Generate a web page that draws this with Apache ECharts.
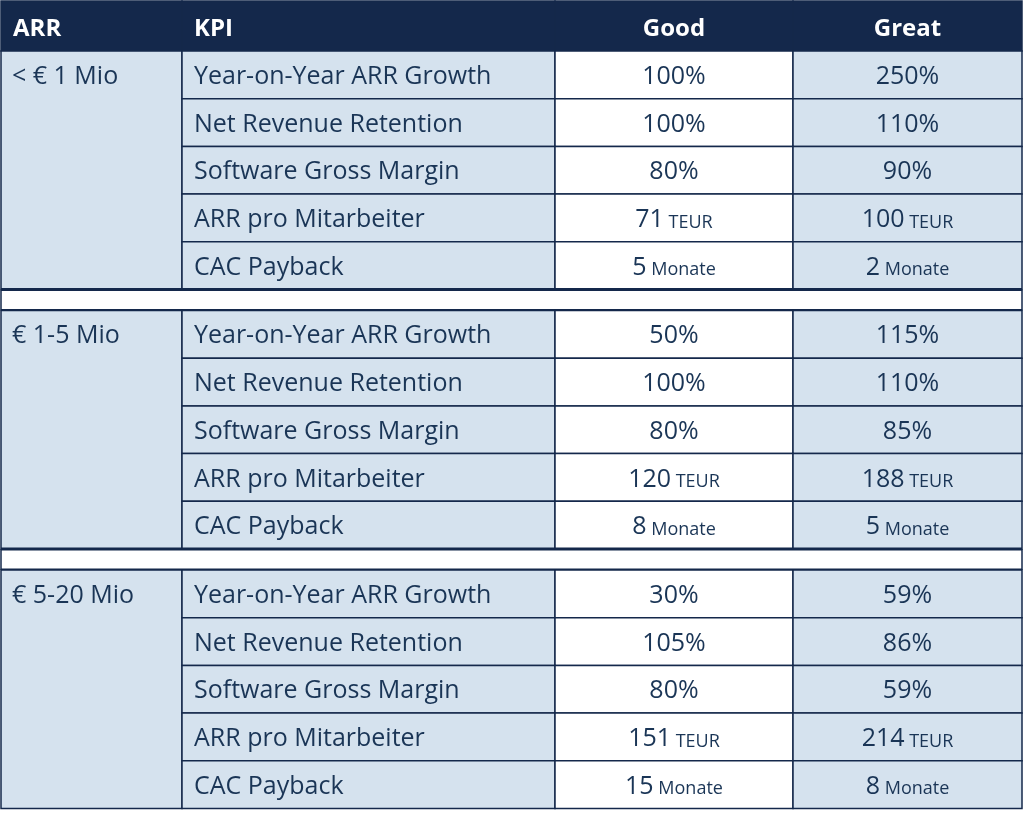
<!DOCTYPE html>
<html><head><meta charset="utf-8">
<script src="https://cdn.jsdelivr.net/npm/echarts@6/dist/echarts.min.js"></script>
<style>html,body{margin:0;padding:0;background:#fff}#c{width:1024px;height:819px}</style>
</head><body><div id="c"></div>
<script>
const headers = ['ARR', 'KPI', 'Good', 'Great'];
const groups = ['< € 1 Mio', '€ 1-5 Mio', '€ 5-20 Mio'];
const kpis = ['Year-on-Year ARR Growth', 'Net Revenue Retention', 'Software Gross Margin', 'ARR pro Mitarbeiter', 'CAC Payback'];
const units = ['%', '%', '%', 'TEUR', 'Monate'];
const goodValues = [[100, 100, 80, 71, 5], [50, 100, 80, 120, 8], [30, 105, 80, 151, 15]];
const greatValues = [[250, 110, 90, 100, 2], [115, 110, 85, 188, 5], [59, 86, 59, 214, 8]];

// layout (pixels)
const colEdges = [1, 182, 555, 793, 1022];
const headerH = 51, rowH = 47.7, gapH = 21;
const NAVY = '#14284b', LIGHT = '#d5e2ee', TXT = '#1a3556';
const FONT = '"Open Sans", "Liberation Sans", sans-serif';

const cells = [];
headers.forEach((h, c) => cells.push({ x0: colEdges[c], x1: colEdges[c + 1], y0: 1, y1: headerH, kind: 'header', text: h, col: c }));
let y = headerH;
groups.forEach((g, gi) => {
  if (gi > 0) { cells.push({ x0: colEdges[0], x1: colEdges[4], y0: y, y1: y + gapH, kind: 'gap' }); y += gapH; }
  cells.push({ x0: colEdges[0], x1: colEdges[1], y0: y, y1: y + rowH * kpis.length, kind: 'group', text: g });
  kpis.forEach((k, ki) => {
    const r0 = y + ki * rowH, r1 = r0 + rowH;
    cells.push({ x0: colEdges[1], x1: colEdges[2], y0: r0, y1: r1, kind: 'kpi', text: k });
    cells.push({ x0: colEdges[2], x1: colEdges[3], y0: r0, y1: r1, kind: 'good', val: goodValues[gi][ki], unit: units[ki] });
    cells.push({ x0: colEdges[3], x1: colEdges[4], y0: r0, y1: r1, kind: 'great', val: greatValues[gi][ki], unit: units[ki] });
  });
  y += rowH * kpis.length;
});

function fmt(v, u) {
  if (u === '%') return '{n|' + v + '%}';
  return '{n|' + v + '}{u| ' + u + '}';
}

const chart = echarts.init(document.getElementById('c'));
chart.setOption({
  animation: false,
  grid: { left: 0, right: 0, top: 0, bottom: 0 },
  xAxis: { type: 'value', min: 0, max: 1024, show: false },
  yAxis: { type: 'value', min: 0, max: 819, inverse: true, show: false },
  series: [{
    type: 'custom',
    data: cells.map((c, i) => [c.x0, c.y0, c.x1, c.y1, i]),
    renderItem: function (params, api) {
      const c = cells[api.value(4)];
      const p0 = api.coord([c.x0, c.y0]), p1 = api.coord([c.x1, c.y1]);
      const w = p1[0] - p0[0], h = p1[1] - p0[1];
      const children = [];
      if (c.kind === 'gap') {
        children.push({ type: 'rect', shape: { x: p0[0], y: p0[1], width: w, height: h }, style: { fill: '#fff', stroke: null } });
        children.push({ type: 'line', shape: { x1: p0[0], y1: p0[1], x2: p1[0], y2: p0[1] }, style: { stroke: NAVY, lineWidth: 3 } });
        children.push({ type: 'line', shape: { x1: p0[0], y1: p1[1], x2: p1[0], y2: p1[1] }, style: { stroke: NAVY, lineWidth: 3 } });
        children.push({ type: 'line', shape: { x1: p0[0], y1: p0[1], x2: p0[0], y2: p1[1] }, style: { stroke: NAVY, lineWidth: 1.5 } });
        children.push({ type: 'line', shape: { x1: p1[0], y1: p0[1], x2: p1[0], y2: p1[1] }, style: { stroke: NAVY, lineWidth: 1.5 } });
        return { type: 'group', children };
      }
      const fill = c.kind === 'header' ? NAVY : (c.kind === 'good' ? '#ffffff' : LIGHT);
      children.push({ type: 'rect', shape: { x: p0[0], y: p0[1], width: w, height: h }, style: { fill, stroke: NAVY, lineWidth: 1.5 } });
      if (c.kind === 'header') {
        const center = c.col >= 2;
        children.push({ type: 'text', style: { text: c.text, x: center ? p0[0] + w / 2 : p0[0] + 12, y: p0[1] + h / 2 + 3, align: center ? 'center' : 'left', verticalAlign: 'middle', fill: '#fff', font: 'bold 24px ' + FONT } });
      } else if (c.kind === 'group') {
        children.push({ type: 'text', style: { text: c.text, x: p0[0] + 11, y: p0[1] + rowH / 2 + 2, align: 'left', verticalAlign: 'middle', fill: TXT, font: '25px ' + FONT } });
      } else if (c.kind === 'kpi') {
        children.push({ type: 'text', style: { text: c.text, x: p0[0] + 12, y: p0[1] + h / 2 + 2, align: 'left', verticalAlign: 'middle', fill: TXT, font: '25px ' + FONT } });
      } else {
        children.push({ type: 'text', style: { text: fmt(c.val, c.unit), x: p0[0] + w / 2, y: p0[1] + h / 2 + 2, align: 'center', verticalAlign: 'middle', fill: TXT,
          rich: { n: { fontSize: 25, fontFamily: FONT, fill: TXT, verticalAlign: 'bottom' }, u: { fontSize: 18, fontFamily: FONT, fill: TXT, verticalAlign: 'bottom', padding: [0, 0, 1, 0] } } } });
      }
      return { type: 'group', children };
    }
  }]
});
</script></body></html>
